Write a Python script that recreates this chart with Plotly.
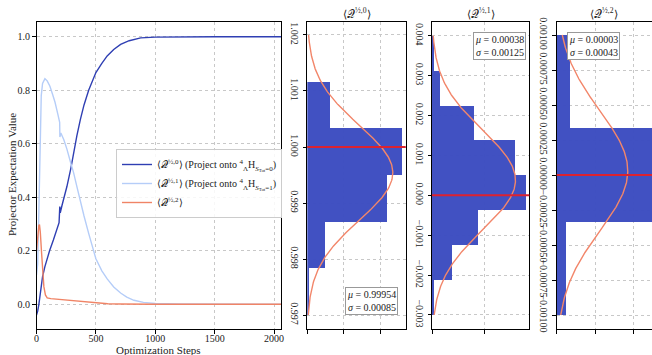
import numpy as np
import plotly.graph_objects as go

# ---------------- data ----------------
q0_steps = [0, 10, 20, 28, 40, 51, 70, 85, 110, 142, 170, 190, 196, 200, 215, 256, 290, 312, 340, 369,
            400, 439, 470, 500, 550, 595, 650, 708, 780, 877, 1000, 1200, 1500, 1800, 2058]
q0_vals = [-0.04, -0.025, 0.0, 0.03, 0.075, 0.103, 0.14, 0.165, 0.2, 0.24, 0.28, 0.305, 0.365, 0.342, 0.37,
           0.44, 0.51, 0.567, 0.63, 0.69, 0.745, 0.80, 0.835, 0.866, 0.90, 0.928, 0.952, 0.971, 0.985,
           0.9955, 0.9985, 1.0, 1.0, 1.0, 1.0]

q1_steps = [0, 10, 20, 30, 40, 51, 71, 90, 113, 135, 156, 180, 195, 197, 205, 230, 256, 290, 312, 340,
            360, 400, 439, 465, 500, 550, 595, 650, 708, 760, 820, 900, 1000, 1200, 1500, 2058]
q1_vals = [0.11, 0.15, 0.35, 0.62, 0.78, 0.825, 0.843, 0.835, 0.815, 0.785, 0.755, 0.71, 0.68, 0.625,
           0.64, 0.615, 0.58, 0.525, 0.492, 0.44, 0.40, 0.33, 0.265, 0.22, 0.17, 0.125, 0.095, 0.065,
           0.042, 0.027, 0.015, 0.007, 0.003, 0.001, 0.0, 0.0]

q2_steps = [0, 10, 20, 25, 32, 43, 52, 62, 75, 90, 120, 200, 300, 400, 500, 600, 700, 800, 1000, 2058]
q2_vals = [0.2, 0.26, 0.295, 0.298, 0.27, 0.19, 0.12, 0.066, 0.035, 0.024, 0.021, 0.018, 0.013, 0.008,
           0.004, 0.002, 0.001, 0.0, 0.0, 0.0]

series_names = [
    "⟨𝒬<sup>½,0</sup>⟩ (Project onto <sup>4</sup><sub>Λ</sub>H<sub><i>S</i><sub>Tot</sub>=0</sub>)",
    "⟨𝒬<sup>½,1</sup>⟩ (Project onto <sup>4</sup><sub>Λ</sub>H<sub><i>S</i><sub>Tot</sub>=1</sub>)",
    "⟨𝒬<sup>½,2</sup>⟩",
]

# histograms (density) : bin edges and densities
h0_edges = [0.997, 0.997833, 0.998667, 0.9995, 1.000333, 1.001167, 1.002]
h0_dens = [9, 99, 438, 520, 127, 0]
h1_edges = [-0.003, -0.002125, -0.00125, -0.000375, 0.0005, 0.001375, 0.00225, 0.003125, 0.004]
h1_dens = [5, 75, 175, 359, 318, 162, 31, 8]
h2_edges = [-0.001, -0.000333, 0.000333, 0.001]
h2_dens = [117, 1260, 174]

hist_titles = ["⟨𝒬<sup>½,0</sup>⟩", "⟨𝒬<sup>½,1</sup>⟩", "⟨𝒬<sup>½,2</sup>⟩"]
hist_mu = [0.99954, 0.00038, 0.00003]
hist_sigma = [0.00085, 0.00125, 0.00043]
hist_target = [1.0, 0.0, 0.0]

# ---------------- style ----------------
FONT = "Liberation Serif"
C_Q0 = "#2f3fb3"
C_Q1 = "#b5cdf8"
C_Q2 = "#f08466"
C_BAR = "#3b4cc0"
C_FIT = "#f2866a"
C_RED = "#dc2230"
GRID = "#c8c8c8"

fig = go.Figure()

for xs, ys, c, nm in [(q0_steps, q0_vals, C_Q0, series_names[0]),
                      (q1_steps, q1_vals, C_Q1, series_names[1]),
                      (q2_steps, q2_vals, C_Q2, series_names[2])]:
    fig.add_trace(go.Scatter(x=xs, y=ys, mode="lines", name=nm,
                             line=dict(color=c, width=1.4), xaxis="x", yaxis="y"))

hists = [(h0_edges, h0_dens), (h1_edges, h1_dens), (h2_edges, h2_dens)]
for i, (edges, dens) in enumerate(hists):
    e = np.array(edges)
    centers = (e[:-1] + e[1:]) / 2
    widths = e[1:] - e[:-1]
    ax = str(i + 2)
    fig.add_trace(go.Bar(y=centers, x=dens, width=widths, orientation="h",
                         marker=dict(color=C_BAR, line=dict(width=0)), opacity=0.97,
                         showlegend=False, xaxis="x" + ax, yaxis="y" + ax))
    yy = np.linspace(e[0], e[-1], 300)
    mu, sg = hist_mu[i], hist_sigma[i]
    pdf = np.exp(-0.5 * ((yy - mu) / sg) ** 2) / (sg * np.sqrt(2 * np.pi))
    fig.add_trace(go.Scatter(x=pdf, y=yy, mode="lines", line=dict(color=C_FIT, width=1.4),
                             showlegend=False, xaxis="x" + ax, yaxis="y" + ax))

W, H = 652, 355
ML, MR, MT, MB = 36, 0, 22, 26
PW = W - ML - MR
PH = H - MT - MB

def px2x(p):
    return (p - ML) / PW

dom_main = [px2x(36.5), px2x(281)]
dom_h = [[px2x(307.3), px2x(405.7)], [px2x(432), px2x(529.3)], [px2x(556.7), 1.0]]

tickfont = dict(family=FONT, size=10, color="#222")

common_line = dict(showline=True, linecolor="black", linewidth=1, ticks="outside",
                   ticklen=3.5, tickcolor="black", tickwidth=0.8,
                   showgrid=True, gridcolor=GRID, griddash="dot", gridwidth=0.8,
                   zeroline=False, tickfont=tickfont)

layout = dict(
    width=W, height=H,
    margin=dict(l=ML, r=MR, t=MT, b=MB, autoexpand=False),
    paper_bgcolor="white", plot_bgcolor="white",
    font=dict(family=FONT, size=10, color="#222"),
    bargap=0,
    showlegend=True,
    legend=dict(x=px2x(116), y=(H - MB - 149) / PH, xanchor="left", yanchor="top",
                bgcolor="rgba(255,255,255,0.85)", bordercolor="#cccccc", borderwidth=1,
                font=dict(family=FONT, size=10, color="#222"), tracegroupgap=0),
    xaxis=dict(domain=dom_main, range=[0, 2058], tickvals=[0, 500, 1000, 1500, 2000],
               mirror=True, anchor="y", ticklabelstandoff=-4, **common_line),
    yaxis=dict(domain=[0, 1], range=[-0.0923, 1.0549], tickvals=[0, 0.2, 0.4, 0.6, 0.8, 1.0],
               tickformat=".1f", mirror=True, anchor="x", **common_line),
)

xr = [[0, 540], [0, 372], [0, 1244]]
xt = [[0, 200, 400], [0, 200], [0, 500, 1000]]
yr = [[0.99675, 1.002232], [-0.003351, 0.004343], [-0.0011, 0.001093]]
ydt = [0.001, 0.001, 0.00025]
yt0 = [0.997, -0.003, -0.001]
yfmt = [".3f", ".3f", ".5f"]
for i in range(3):
    n = str(i + 2)
    layout["xaxis" + n] = dict(domain=dom_h[i], range=xr[i], tickvals=xt[i], showticklabels=False,
                               mirror=True, anchor="y" + n, **common_line)
    layout["yaxis" + n] = dict(domain=[0, 1], range=yr[i], tick0=yt0[i], dtick=ydt[i],
                               tickformat=yfmt[i], tickangle=90, mirror=(i < 2),
                               anchor="x" + n, **common_line)

fig.update_layout(**layout)

shapes = []
annotations = []
for i in range(3):
    n = str(i + 2)
    shapes.append(dict(type="line", xref="x" + n + " domain", x0=0, x1=1, yref="y" + n,
                       y0=hist_target[i], y1=hist_target[i], line=dict(color=C_RED, width=2)))
    annotations.append(dict(text=hist_titles[i], xref="paper", yref="paper",
                            x=(dom_h[i][0] + min(dom_h[i][1], px2x(654))) / 2, y=1.0,
                            xanchor="center", yanchor="bottom", yshift=0, showarrow=False,
                            font=dict(family=FONT, size=11, color="#222")))

stat_pos = [(398.3, 300.5, "right"), (526, 46, "right"), (567, 46, "left")]
for i in range(3):
    px, py, anc = stat_pos[i]
    annotations.append(dict(text=f"<i>μ</i> = {hist_mu[i]:.5f}<br><i>σ</i> = {hist_sigma[i]:.5f}",
                            xref="paper", yref="paper", x=px2x(px), y=(H - MB - py) / PH,
                            xanchor=anc, yanchor="middle", showarrow=False, align="left",
                            bgcolor="white", bordercolor="#999999", borderwidth=1, borderpad=1,
                            font=dict(family=FONT, size=10, color="#222")))

annotations.append(dict(text="Projector Expectation Value", xref="paper", yref="paper",
                        x=px2x(12), y=(H - MB - 175) / PH, textangle=-90, showarrow=False,
                        xanchor="center", yanchor="middle",
                        font=dict(family=FONT, size=11, color="#222")))
annotations.append(dict(text="Optimization Steps", xref="paper", yref="paper",
                        x=px2x(158.7), y=(H - MB - 350) / PH, showarrow=False,
                        xanchor="center", yanchor="middle",
                        font=dict(family=FONT, size=11, color="#222")))

fig.update_layout(shapes=shapes, annotations=annotations)
fig.write_html("out.html", config={"displayModeBar": False},
               post_script="document.body.style.margin='0px';document.body.style.overflow='hidden';")
